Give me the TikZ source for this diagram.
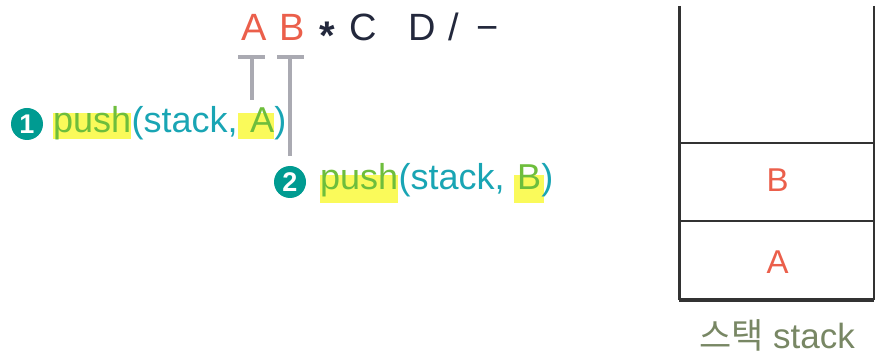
\documentclass[tikz,border=0pt]{standalone}
\usepackage{fontspec}
\setmainfont{Liberation Sans}
\newfontfamily\krfont{Noto Sans CJK KR}
\usetikzlibrary{calc}
\definecolor{tealtext}{RGB}{25,165,180}
\definecolor{tealcirc}{RGB}{0,155,145}
\definecolor{hlgreen}{RGB}{110,190,60}
\definecolor{hlyellow}{RGB}{250,250,90}
\definecolor{redtxt}{RGB}{235,95,75}
\definecolor{navy}{RGB}{35,40,60}
\definecolor{tgray}{RGB}{170,170,178}
\definecolor{olive}{RGB}{120,135,100}
\definecolor{stackline}{RGB}{50,50,50}
\tikzset{
  big/.style={font=\fontsize{36}{40}\selectfont},
  exprred/.style={font=\fontsize{38}{40}\selectfont, text=redtxt, inner sep=0, anchor=base},
  exprdark/.style={font=\fontsize{38}{40}\selectfont, text=navy, inner sep=0, anchor=base},
  codetxt/.style={big, text=tealtext, inner sep=0, anchor=base west},
  hlone/.style={codetxt, fill=hlyellow, text=hlgreen, text height=20pt, text depth=6pt},
  hltwo/.style={codetxt, fill=hlyellow, text=hlgreen, text height=15pt, text depth=13pt},
  numcirc/.style={circle, fill=tealcirc, text=white, inner sep=0, minimum size=32pt,
    font=\fontsize{27}{27}\selectfont\bfseries},
  tbar/.style={draw=tgray, line width=4.5pt},
  stackln/.style={draw=stackline, line width=2pt},
  stackthick/.style={draw=stackline, line width=3pt},
  cell/.style={font=\fontsize{33}{36}\selectfont, text=redtxt, inner sep=0},
}
\begin{document}
\begin{tikzpicture}[x=1pt,y=-1pt]
\useasboundingbox (0,0) rectangle (875,355);
% expression
\node[exprred] (eA) at (254,41) {A};
\node[exprred] (eB) at (292,41) {B};
\node[exprdark, font=\fontsize{40}{40}\selectfont\bfseries] (eM) at (327,50) {*};
\node[exprdark] (eC) at (363,41) {C};
\node[exprdark] (eD) at (422,41) {D};
\node[exprdark] (eS) at (454,41) {/};
\node[exprdark] (eN) at (488,41) {\char"2212};
% T connectors
\coordinate (tA) at (252,57);
\coordinate (tAend) at (252,100);
\coordinate (tB) at (290,57);
\coordinate (tBend) at (290,156);
\draw[tbar] ($(tA)+(-14,0)$) -- ($(tA)+(13,0)$);
\draw[tbar] (tA) -- (tAend);
\draw[tbar] ($(tB)+(-13,0)$) -- ($(tB)+(14,0)$);
\draw[tbar] (tB) -- (tBend);
% line 1
\node[numcirc] (c1) at (27,124) {1};
\node[hlone] (push1) at (53,133) {push};
\node[codetxt] (arg1) at (push1.base east) {(stack,};
\node[hlone] (a1) at (arg1.base east) {\hspace*{12pt}A};
\node[codetxt] (r1) at (a1.base east) {)};
% line 2
\node[numcirc] (c2) at (290,182) {2};
\node[hltwo] (push2) at (320,190) {push};
\node[codetxt] (arg2) at (push2.base east) {(stack,};
\node[hltwo, inner xsep=3pt] (b2) at ($(arg2.base east)+(9,0)$) {B};
\node[codetxt] (r2) at ($(b2.base east)+(-3,0)$) {)};
% stack
\coordinate (stl) at (679,6);
\coordinate (str) at (874,6);
\coordinate (sbl) at (679,300);
\coordinate (sbr) at (874,300);
\draw[stackthick] (stl) -- (sbl);
\draw[stackln] (str) -- (sbr);
\draw[stackln] (679,143) -- (874,143);
\draw[stackln] (679,221) -- (874,221);
\draw[draw=stackline, line width=3.5pt] (sbl) -- (sbr);
\node[cell] (sB) at (777.5,180) {B};
\node[cell] (sA) at (777.5,262) {A};
\node[font=\fontsize{35}{38}\selectfont, text=olive, inner sep=0] (lbl) at (777,335) {{\krfont 스택} stack};
\end{tikzpicture}
\end{document}
